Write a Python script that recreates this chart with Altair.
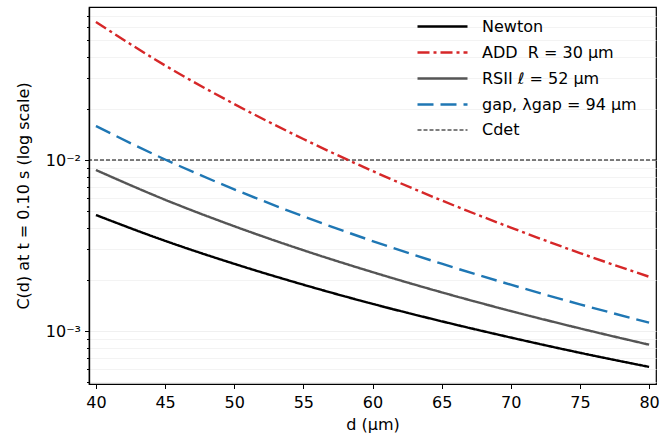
import altair as alt
import pandas as pd

d_vals = [40, 45, 50, 55, 60, 65, 70, 75, 80]
newton = [0.004769, 0.003369, 0.002472, 0.001866, 0.001442, 0.001140, 0.000916, 0.000746, 0.000617]
add_r30 = [0.0641, 0.03574, 0.02126, 0.01327, 0.008624, 0.005802, 0.004024, 0.002858, 0.002077]
rsii = [0.008740, 0.005858, 0.004101, 0.002968, 0.002211, 0.001684, 0.001309, 0.001036, 0.000832]
gap = [0.01580, 0.01007, 0.006740, 0.004686, 0.003360, 0.002475, 0.001866, 0.001432, 0.001120]
c_det = 0.01

names = ["Newton", "ADD\u00a0\u00a0R = 30 μm", "RSII ℓ = 52 μm", "gap, λgap = 94 μm", "Cdet"]
colors = ["#000000", "#d62728", "#555555", "#1f77b4", "#000000"]
dashes = [[1, 0], [12, 4, 3, 4], [1, 0], [16, 7], [4, 2]]
widths = [2.4, 2.4, 2.4, 2.4, 1.1]

rows = []
for name, series in zip(names[:4], [newton, add_r30, rsii, gap]):
    for d, c in zip(d_vals, series):
        rows.append({"d": d, "C": c, "series": name})
df = pd.DataFrame(rows)
df_det = pd.DataFrame({"C": [c_det], "series": [names[4]]})

minor_vals = [5e-4, 6e-4, 7e-4, 8e-4, 9e-4,
              2e-3, 3e-3, 4e-3, 5e-3, 6e-3, 7e-3, 8e-3, 9e-3,
              2e-2, 3e-2, 4e-2, 5e-2, 6e-2, 7e-2]
major_vals = [1e-3, 1e-2]

yscale = alt.Scale(type="log", domain=[0.00049, 0.0785], nice=False)
xscale = alt.Scale(domain=[39.5, 80.5], nice=False, zero=False)

color_enc = alt.Color("series:N", scale=alt.Scale(domain=names, range=colors), title=None, sort=names)
dash_enc = alt.StrokeDash("series:N", scale=alt.Scale(domain=names, range=dashes), title=None, sort=names)
width_enc = alt.StrokeWidth("series:N", scale=alt.Scale(type="ordinal", domain=names, range=widths),
                            title=None, sort=names)

lines = alt.Chart(df).mark_line(interpolate="monotone").encode(
    x=alt.X("d:Q", scale=xscale,
            axis=alt.Axis(values=d_vals, title="d (μm)", grid=False, tickSize=4.5,
                          labelPadding=6, titlePadding=6)),
    y=alt.Y("C:Q", scale=yscale,
            axis=alt.Axis(values=major_vals, orient="left", title="C(d) at t = 0.10 s (log scale)",
                          labelExpr="datum.value < 0.005 ? '10⁻³' : '10⁻²'",
                          tickSize=4.5, grid=True, gridColor="#ececec", gridWidth=0.8,
                          labelPadding=4, titlePadding=14)),
    color=color_enc, strokeDash=dash_enc, strokeWidth=width_enc,
)

det = alt.Chart(df_det).mark_rule().encode(
    y=alt.Y("C:Q", scale=yscale,
            axis=alt.Axis(values=minor_vals, orient="left", labels=False, title=None,
                          tickSize=2.5, grid=True, gridColor="#f0f0f0", gridWidth=0.8)),
    color=color_enc, strokeDash=dash_enc, strokeWidth=width_enc,
)

chart = alt.layer(det, lines).resolve_axis(y="independent").properties(
    width=567, height=377,
    autosize=alt.AutoSizeParams(type="none"),
    padding={"left": 89, "top": 7, "right": 16, "bottom": 55},
).configure_view(
    stroke="black", strokeWidth=1.2
).configure_axis(
    labelFont="DejaVu Sans", labelFontSize=16, labelColor="black",
    titleFont="DejaVu Sans", titleFontSize=16, titleFontWeight="normal", titleColor="black",
    domainColor="black", tickColor="black", domainWidth=1.2, tickWidth=1,
).configure_legend(
    orient="none", legendX=342, legendY=8, padding=0,
    symbolType="M-2.5,0H2.5", symbolSize=400, symbolFillColor="transparent",
    labelFont="DejaVu Sans", labelFontSize=16, labelColor="black", labelOffset=28,
    rowPadding=6, fillColor="transparent", strokeColor="transparent",
)

chart.save("out.html", embed_options={"renderer": "svg", "actions": False})
